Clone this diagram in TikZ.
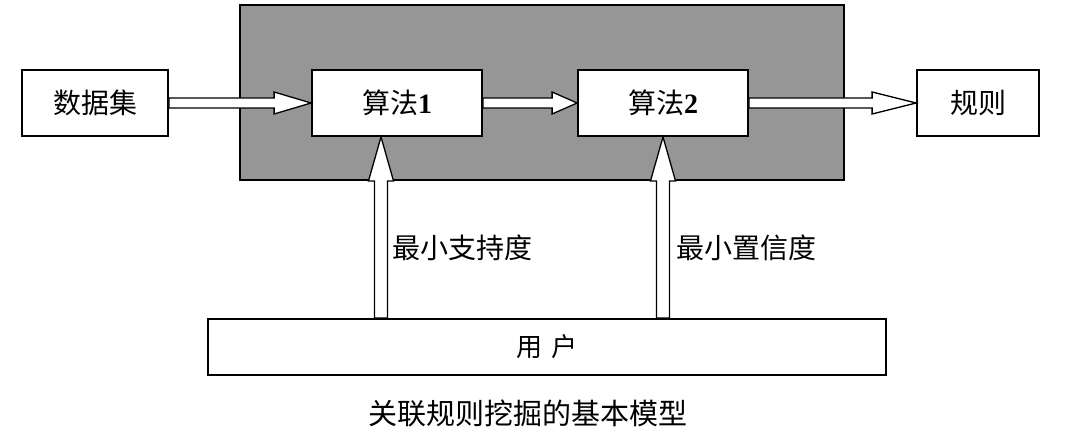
\documentclass[tikz,border=0pt]{standalone}
\usepackage{fontspec}
\setmainfont{Liberation Serif}
\newfontfamily\cjk{Noto Sans CJK SC}
\usetikzlibrary{calc}
\definecolor{panelgray}{HTML}{969696}
\tikzset{
  box/.style={draw=black, line width=1.8pt, fill=white, inner sep=0pt, minimum height=66pt, font=\cjk\fontsize{28}{30}\selectfont},
  fatarrow/.style={draw=black, line width=1.3pt, fill=white, line join=miter},
  lbl/.style={font=\cjk\fontsize{28}{30}\selectfont, inner sep=0pt}
}
\begin{document}
\begin{tikzpicture}[x=1pt, y=-1pt]
\useasboundingbox (0,0) rectangle (1080,436);
% grey panel
\node[draw=black, line width=1.8pt, fill=panelgray, minimum width=604pt, minimum height=175pt, inner sep=0pt] (panel) at (542,92.5) {};
% boxes
\node[box, minimum width=146pt] (d) at (95,103) {数据集};
\node[box, minimum width=170pt] (a1) at (397,103) {算法{\rmfamily\bfseries 1}};
\node[box, minimum width=170pt] (a2) at (663,103) {算法{\rmfamily\bfseries 2}};
\node[box, minimum width=122pt] (r) at (978,103) {规则};
\node[box, minimum width=678pt, minimum height=56pt, font=\cjk\fontsize{26}{28}\selectfont] (u) at (547,347) {用\hspace{9pt}户};
% horizontal fat arrows
\foreach \s/\t/\h in {d/a1/37, a1/a2/25, a2/r/44}{
  \draw[fatarrow] ($(\s.east)+(0,-5)$) -- ($(\t.west)+(-\h,-5)$) -- ($(\t.west)+(-\h,-11)$)
    -- (\t.west) -- ($(\t.west)+(-\h,11)$) -- ($(\t.west)+(-\h,5)$) -- ($(\s.east)+(0,5)$) -- cycle;
}
% vertical fat arrows
\coordinate (t1) at ($(a1.south)+(-16,0)$);
\coordinate (t2) at (a2.south);
\foreach \t in {t1, t2}{
  \draw[fatarrow] (u.north -| \t) ++(-6.5,0) -- ($(\t)+(-6.5,44)$) -- ($(\t)+(-12.5,44)$) -- (\t)
    -- ($(\t)+(12.5,44)$) -- ($(\t)+(6.5,44)$) -- ($(u.north -| \t)+(6.5,0)$) -- cycle;
}
% labels
\node[lbl, anchor=west] (s1) at (392,248) {最小支持度};
\node[lbl, anchor=west] (s2) at (676,248) {最小置信度};
\node[lbl, font=\cjk\fontsize{29}{31}\selectfont] (cap) at (528,413) {关联规则挖掘的基本模型};
\end{tikzpicture}
\end{document}
